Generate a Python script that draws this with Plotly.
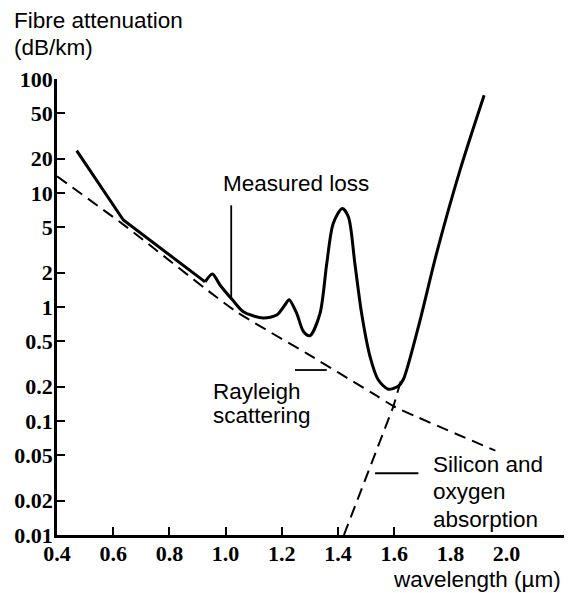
import plotly.graph_objects as go

# ---------------- data ----------------
# Measured loss (dB/km) vs wavelength (µm): straight early part + smooth part
measured_lin_x = [0.47, 0.636, 0.927]
measured_lin_y = [23.5, 5.8, 1.66]
measured_x = [0.927, 0.953, 0.98, 1.025, 1.063, 1.134, 1.182, 1.211, 1.226, 1.253,
              1.277, 1.300, 1.336, 1.36, 1.383, 1.415, 1.437, 1.46, 1.484, 1.514,
              1.543, 1.579, 1.615, 1.632, 1.686, 1.751, 1.834, 1.92]
measured_y = [1.66, 1.95, 1.56, 1.15, 0.91, 0.80, 0.85, 1.04, 1.16, 0.88,
              0.61, 0.56, 0.88, 2.41, 5.41, 7.3, 6.18, 2.41, 0.88, 0.367,
              0.23, 0.19, 0.203, 0.23, 0.67, 2.97, 15.8, 72.0]

# Rayleigh scattering (dashed)
rayleigh_x = [0.4, 0.64, 1.03, 1.29, 1.54, 1.6, 1.96]
rayleigh_y = [14.0, 5.2, 0.94, 0.39, 0.165, 0.134, 0.055]

# Silicon and oxygen absorption (dashed)
absorption_x = [1.421, 1.597, 1.627]
absorption_y = [0.01, 0.134, 0.24]

# Axis ticks
x_ticks = [0.4, 0.6, 0.8, 1.0, 1.2, 1.4, 1.6, 1.8, 2.0]
x_ticklabels = ["0.4", "0.6", "0.8", "1.0", "1.2", "1.4", "1.6", "1.8", "2.0"]
x_tickmarks = [0.6, 0.8, 1.0, 1.2, 1.4, 1.6]
y_ticks = [0.01, 0.02, 0.05, 0.1, 0.2, 0.5, 1, 2, 5, 10, 20, 50, 100]
y_ticklabels = ["0.01", "0.02", "0.05", "0.1", "0.2", "0.5", "1", "2", "5", "10", "20", "50", "100"]

# Callout leader lines (label anchors)
measured_ptr_x = [1.02, 1.02]
measured_ptr_y = [1.2, 7.8]
rayleigh_ptr_x = [1.247, 1.36]
rayleigh_ptr_y = [0.28, 0.28]
absorption_ptr_x = [1.532, 1.686]
absorption_ptr_y = [0.0348, 0.0348]

# ---------------- figure ----------------
# The page body has an 8px margin, so the figure is 8px smaller than the window
OFF = 8
W, H = 572 - OFF, 593 - OFF
ML, MR, MT, MB = 57 - OFF, 2, 79 - OFF, 58
PW, PH = W - ML - MR, H - MT - MB


def pxx(p):  # page pixel -> paper x
    return (p - OFF - ML) / PW


def pxy(p):  # page pixel -> paper y
    return (H - MB - (p - OFF)) / PH


BLACK = "black"
DASH = "12px,7px"

fig = go.Figure()
fig.add_trace(go.Scatter(x=rayleigh_x, y=rayleigh_y, mode="lines",
                         line=dict(color=BLACK, width=2, dash=DASH, shape="spline", smoothing=0.6),
                         hoverinfo="skip"))
fig.add_trace(go.Scatter(x=absorption_x, y=absorption_y, mode="lines",
                         line=dict(color=BLACK, width=2, dash=DASH),
                         hoverinfo="skip"))
fig.add_trace(go.Scatter(x=measured_lin_x, y=measured_lin_y, mode="lines",
                         line=dict(color=BLACK, width=3),
                         hoverinfo="skip"))
fig.add_trace(go.Scatter(x=measured_x, y=measured_y, mode="lines",
                         line=dict(color=BLACK, width=3, shape="spline", smoothing=0.8),
                         hoverinfo="skip"))
for px_, py_ in [(measured_ptr_x, measured_ptr_y), (rayleigh_ptr_x, rayleigh_ptr_y),
                 (absorption_ptr_x, absorption_ptr_y)]:
    fig.add_trace(go.Scatter(x=px_, y=py_, mode="lines",
                             line=dict(color=BLACK, width=1.8), hoverinfo="skip"))

TXT = dict(family="Liberation Sans, Arial, sans-serif", size=22.5, color=BLACK)
TICKF = dict(family="Liberation Serif, Times New Roman, serif", size=22, color=BLACK, weight="bold")


def label(text, x, y, anchor="left"):
    return dict(text=text, xref="paper", yref="paper", x=pxx(x), y=pxy(y),
                xanchor=anchor, yanchor="middle", showarrow=False, font=TXT)


annotations = [
    label("Fibre attenuation", 12, 20),
    label("(dB/km)", 12, 47.5),
    label("Measured loss", 221, 183.5),
    label("Rayleigh", 211, 391.5),
    label("scattering", 211, 415.5),
    label("Silicon and", 431, 464.5),
    label("oxygen", 431, 491.5),
    label("absorption", 431, 519),
    label("wavelength (µm)", 563, 579.5, anchor="right"),
]

fig.update_layout(
    width=W, height=H,
    margin=dict(l=ML, r=MR, t=MT, b=MB, pad=0, autoexpand=False),
    paper_bgcolor="white", plot_bgcolor="white",
    showlegend=False,
    font=TXT,
    annotations=annotations,
    xaxis=dict(range=[0.4, 0.4 + PW / 281.0], tickmode="array",
               tickvals=x_ticks, ticktext=x_ticklabels, ticks="",
               minor=dict(tickmode="array", tickvals=x_tickmarks, ticks="inside",
                          ticklen=8, tickwidth=2, tickcolor=BLACK, showgrid=False),
               showline=True, linecolor=BLACK, linewidth=2.5, automargin=False,
               ticklabelstandoff=-3,
               showgrid=False, zeroline=False, tickfont=TICKF, fixedrange=True),
    yaxis=dict(type="log", range=[-2, 2], tickvals=y_ticks, ticktext=y_ticklabels,
               ticks="inside", ticklen=8, tickwidth=2, tickcolor=BLACK,
               showline=True, linecolor=BLACK, linewidth=2.5, automargin=False,
               ticklabelstandoff=-3,
               showgrid=False, zeroline=False, tickfont=TICKF, fixedrange=True),
)

fig.write_html("out.html")
